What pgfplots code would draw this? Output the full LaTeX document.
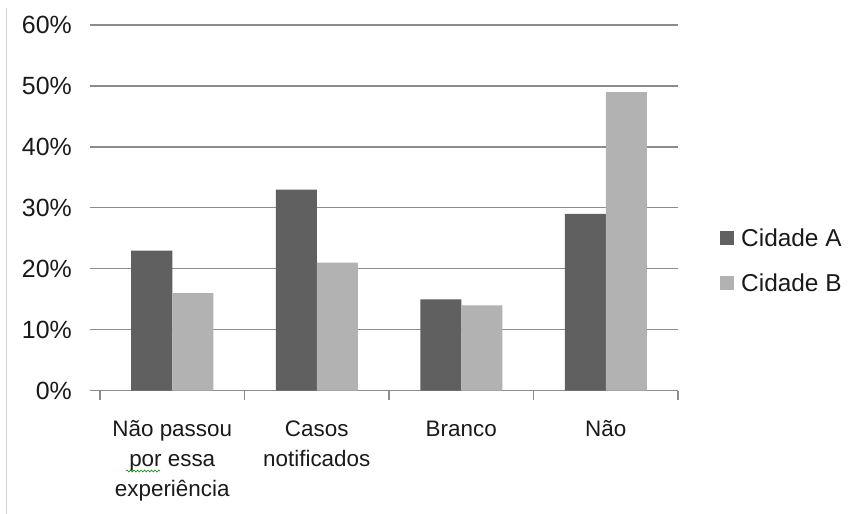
\documentclass[border=0pt]{standalone}
\usepackage{fontspec}
\setmainfont{Liberation Sans}
\usepackage{pgfplots}
\pgfplotsset{compat=1.18}
\usetikzlibrary{decorations.pathmorphing}

\definecolor{cityA}{HTML}{606060}
\definecolor{cityB}{HTML}{B2B2B2}
\definecolor{gridgray}{HTML}{8C8C8C}
\definecolor{txt}{HTML}{1A1A1A}

\begin{document}
\begin{tikzpicture}[x=1bp,y=1bp]
\useasboundingbox (-100,-123.3) rectangle (748,390.7);
\fill[white] (-100,-123.3) rectangle (748,390.7);
\draw[color=black!18, line width=0.9bp] (-93.5,-123.3) -- (-93.5,382.7);
\begin{axis}[
  scale only axis,
  width=578bp, height=365.7bp,
  xmin=0, xmax=4, ymin=0, ymax=60,
  axis lines*=left,
  y axis line style={draw=none},
  x axis line style={gridgray, line width=1.3bp},
  tick align=outside,
  major tick length=10bp,
  minor tick length=9bp,
  ytick={0,10,20,30,40,50,60},
  yticklabels={0\%,10\%,20\%,30\%,40\%,50\%,60\%},
  ytick style={gridgray, line width=1.3bp},
  ymajorgrids,
  grid style={gridgray, line width=1.3bp},
  xtick={0.5,1.5,2.5,3.5},
  xticklabels={{Não passou\\por essa\\experiência},{Casos\\notificados},Branco,Não},
  major x tick style={draw=none},
  minor xtick={0,1,2,3,4},
  minor x tick style={gridgray, line width=1.3bp},
  every y tick label/.style={font=\fontsize{25}{30}\selectfont, text=txt, anchor=east, inner sep=0pt, xshift=-18bp},
  xticklabel style={font=\fontsize{22.5}{30}\selectfont, text=txt, align=center, anchor=north, inner sep=0pt, yshift=-20bp},
  legend image code/.code={\fill[#1] (0bp,-7bp) rectangle (14bp,7bp);},
  legend style={draw=none, fill=none, at={(1.0727,0.356)}, anchor=west,
    font=\fontsize{24.5}{29}\selectfont, text=txt, row sep=22bp, inner sep=0pt,
    nodes={inner sep=2bp}},
  /tikz/every odd column/.append style={column sep=5bp},
  legend cell align=left,
]
\addplot[ybar, fill=cityA, draw=none, bar width=41bp, bar shift=-20.5bp]
  coordinates {(0.5,23) (1.5,33) (2.5,15) (3.5,29)};
\addplot[ybar, fill=cityB, draw=none, bar width=41bp, bar shift=20.5bp]
  coordinates {(0.5,16) (1.5,21) (2.5,14) (3.5,49)};
\legend{Cidade A, Cidade B}
\end{axis}
% spell-check squiggle under "por"
\draw[green!55!black, line width=0.6bp, decorate,
  decoration={snake, amplitude=1bp, segment length=3.5bp}] (26,-80.3) -- (60,-80.3);
\end{tikzpicture}
\end{document}
